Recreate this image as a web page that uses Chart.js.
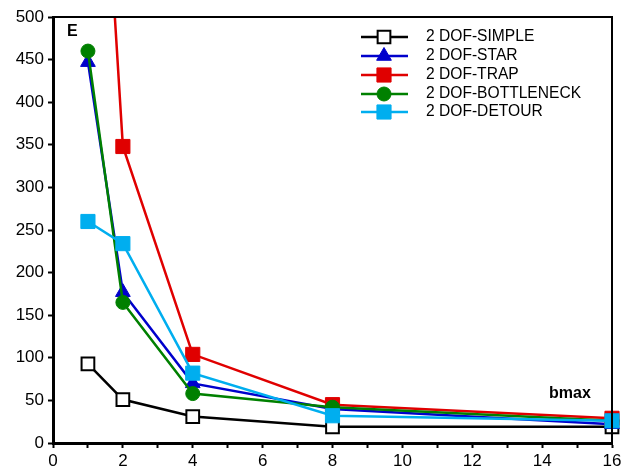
<!DOCTYPE html>
<html>
<head>
<meta charset="utf-8">
<script src="https://cdn.jsdelivr.net/npm/chart.js@4.4.1/dist/chart.umd.min.js"></script>
<style>
  html, body { margin: 0; padding: 0; background: #fff; }
  #wrap { width: 632px; height: 473px; }
</style>
</head>
<body>
<div id="wrap"><canvas id="myChart" width="632" height="473"></canvas></div>
<script>
// bmax values on the x axis
var bmax = [1, 2, 4, 8, 16];

var simple = [93, 51, 31, 19, 19];
var star = [447, 177, 70, 40, 22];
var trap = [1010, 348, 104, 45, 29];
var bottleneck = [460, 165, 58, 42, 26];
var detour = [260, 234, 82, 32, 26];

var seriesNames = ["2 DOF-SIMPLE", "2 DOF-STAR", "2 DOF-TRAP", "2 DOF-BOTTLENECK", "2 DOF-DETOUR"];

function pts(vals) {
    var out = [];
    for (var i = 0; i < bmax.length; i++) {
        out.push({ x: bmax[i], y: vals[i] });
    }
    return out;
}

var font = "'Liberation Sans', Arial, sans-serif";

// legend box, frame and the two axis captions
var extras = {
    id: "extras",
    afterDraw: function (chart) {
        var ctx = chart.ctx;
        var area = chart.chartArea;
        ctx.save();
        ctx.strokeStyle = "#000";
        ctx.lineWidth = 2;
        ctx.beginPath();
        ctx.moveTo(area.left, area.top);
        ctx.lineTo(area.right, area.top);
        ctx.lineTo(area.right, area.bottom);
        ctx.stroke();

        ctx.fillStyle = "#000";
        ctx.font = "bold 16px " + font;
        ctx.textBaseline = "middle";
        ctx.textAlign = "left";
        ctx.fillText("E", 67, 32);
        ctx.fillText("bmax", 549, 394);

        // legend
        var rowY = [37, 56, 75, 94, 112];
        ctx.font = "15.6px " + font;
        chart.data.datasets.forEach(function (ds, i) {
            var y = rowY[i];
            ctx.strokeStyle = ds.borderColor;
            ctx.lineWidth = 2.5;
            ctx.beginPath();
            ctx.moveTo(361, y);
            ctx.lineTo(408, y);
            ctx.stroke();
            ctx.fillStyle = ds.pointBackgroundColor;
            ctx.strokeStyle = ds.pointBorderColor;
            ctx.lineWidth = ds.pointBorderWidth;
            Chart.helpers.drawPoint(ctx, {
                pointStyle: ds.pointStyle,
                radius: ds.pointRadius,
                borderWidth: ds.pointBorderWidth
            }, 384, y);
            ctx.fillStyle = "#000";
            ctx.fillText(ds.label, 426, y);
        });
        ctx.restore();
    }
};

function mk(i, vals, color, style, radius, fill, order) {
    return {
        label: seriesNames[i],
        data: pts(vals),
        borderColor: color,
        backgroundColor: fill,
        pointBackgroundColor: fill,
        pointBorderColor: color,
        pointBorderWidth: fill === "#fff" ? 2 : 1,
        pointStyle: style,
        pointRadius: radius,
        pointHoverRadius: radius,
        borderWidth: 2.5,
        tension: 0,
        order: order,
        clip: { left: false, top: 0, right: false, bottom: false }
    };
}

var myChart = new Chart(document.getElementById("myChart").getContext("2d"), {
    type: "line",
    data: {
        datasets: [
            mk(0, simple, "#000000", "rect", 9, "#fff", 4),
            mk(1, star, "#0000cc", "triangle", 8.5, "#0000cc", 3),
            mk(2, trap, "#e00000", "rect", 10, "#e00000", 2),
            mk(3, bottleneck, "#008000", "circle", 7, "#008000", 1),
            mk(4, detour, "#00aeef", "rect", 10, "#00aeef", 0)
        ]
    },
    options: {
        responsive: false,
        animation: false,
        layout: { padding: { top: 17, right: 20, left: 0, bottom: 0 } },
        plugins: {
            legend: { display: false },
            tooltip: { enabled: false }
        },
        scales: {
            x: {
                type: "linear",
                min: 0,
                max: 16,
                grid: { drawOnChartArea: false, tickLength: 5, color: "#000", tickWidth: 2 },
                border: { color: "#000", width: 3 },
                ticks: {
                    stepSize: 1,
                    autoSkip: false,
                    maxRotation: 0,
                    padding: 3,
                    color: "#000",
                    font: { family: font, size: 17 },
                    callback: function (v) { return v % 2 === 0 ? v : ""; }
                },
                afterFit: function (s) { s.height = 30; }
            },
            y: {
                min: 0,
                max: 500,
                grid: { drawOnChartArea: false, tickLength: 5, color: "#000", tickWidth: 2 },
                border: { color: "#000", width: 3 },
                ticks: {
                    stepSize: 50,
                    padding: 4,
                    color: "#000",
                    font: { family: font, size: 17 }
                },
                afterFit: function (s) { s.width = 53; }
            }
        }
    },
    plugins: [extras]
});
</script>
</body>
</html>
